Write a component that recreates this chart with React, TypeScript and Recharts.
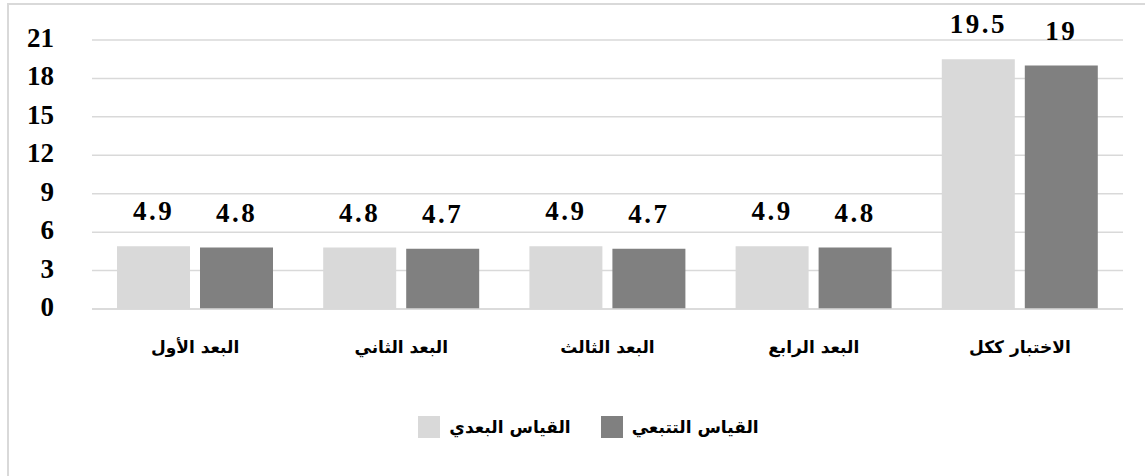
import { BarChart, Bar, XAxis, YAxis, CartesianGrid, Legend, LabelList } from "recharts";

const dimensions = ["البعد الأول", "البعد الثاني", "البعد الثالث", "البعد الرابع", "الاختبار ككل"];
const postTest = [4.9, 4.8, 4.9, 4.9, 19.5];
const followUp = [4.8, 4.7, 4.7, 4.8, 19];
const yTicks = [0, 3, 6, 9, 12, 15, 18, 21];

const LIGHT = "#d9d9d9";
const DARK = "#808080";
const numFont = "Liberation Serif, Times New Roman, Tinos, serif";
const arFont = "DejaVu Sans, sans-serif";

const data = dimensions.map((name, i) => ({
    name,
    post: postTest[i],
    follow: followUp[i],
}));

// y ticks: bold serif numbers, right aligned left of the plot
const YTick = (props: any) => {
    const { x, y, payload } = props;
    return (
        <text
            x={x}
            y={y}
            dy={7}
            textAnchor="end"
            fill="#000"
            style={{ fontSize: "27px", fontWeight: 700, fontFamily: numFont }}
        >
            {payload.value}
        </text>
    );
};

const XTick = (props: any) => {
    const { x, y, payload } = props;
    return (
        <text x={x} y={y} dy={6} textAnchor="middle" fill="#000" style={{ fontSize: "17px", fontWeight: 700, fontFamily: arFont }}>
            {payload.value}
        </text>
    );
};

const ValueLabel = (props: any) => {
    const { x, y, width, value } = props;
    return (
        <text
            x={x + width / 2}
            y={y - 26}
            textAnchor="middle"
            fill="#000"
            style={{ fontSize: "27px", fontWeight: 700, fontFamily: numFont, letterSpacing: "2.5px" }}
        >
            {value}
        </text>
    );
};

function LegendBox() {
    const item = (color: string, label: string, gap: number) => (
        <div style={{ display: "flex", alignItems: "center", marginRight: gap }}>
            <span style={{ width: 22, height: 22, background: color, display: "inline-block", marginRight: 9 }} />
            <span style={{ fontFamily: arFont, fontWeight: "bold", fontSize: 17, color: "#000" }}>{label}</span>
        </div>
    );
    return (
        <div style={{ display: "flex", justifyContent: "center", paddingLeft: 32 }}>
            {item(LIGHT, "القياس البعدي", 30)}
            {item(DARK, "القياس التتبعي", 0)}
        </div>
    );
}

export default function App() {
    return (
        <div style={{ position: "absolute", left: 0, top: 0, width: 1145, height: 476, overflow: "hidden", background: "#fff" }}>
            <div
                style={{
                    position: "absolute",
                    left: 7,
                    top: 3,
                    width: 1160,
                    height: 490,
                    borderLeft: "2px solid #d9d9d9",
                    borderTop: "2px solid #d9d9d9",
                }}
            />
            <BarChart
                width={1145}
                height={476}
                data={data}
                margin={{ top: 40, right: 22, left: 0, bottom: 115 }}
                barCategoryGap={25}
                barGap={10}
                style={{ position: "absolute", left: 0, top: 0 }}
            >
                <CartesianGrid vertical={false} stroke={LIGHT} strokeWidth={1.5} />
                <XAxis
                    dataKey="name"
                    axisLine={{ stroke: LIGHT, strokeWidth: 1.5 }}
                    tickLine={false}
                    tickSize={0}
                    tickMargin={38}
                    tick={<XTick />}
                    interval={0}
                />
                <YAxis
                    domain={[0, 21]}
                    ticks={yTicks}
                    width={92}
                    axisLine={false}
                    tickLine={false}
                    tickSize={0}
                    tickMargin={38}
                    tick={<YTick />}
                />
                <Legend
                    verticalAlign="bottom"
                    content={() => <LegendBox />}
                    wrapperStyle={{ top: 416, bottom: "auto", left: 0, width: 1145 }}
                />
                <Bar dataKey="post" fill={LIGHT} isAnimationActive={false}>
                    <LabelList dataKey="post" content={<ValueLabel />} />
                </Bar>
                <Bar dataKey="follow" fill={DARK} isAnimationActive={false}>
                    <LabelList dataKey="follow" content={<ValueLabel />} />
                </Bar>
            </BarChart>
        </div>
    );
}
